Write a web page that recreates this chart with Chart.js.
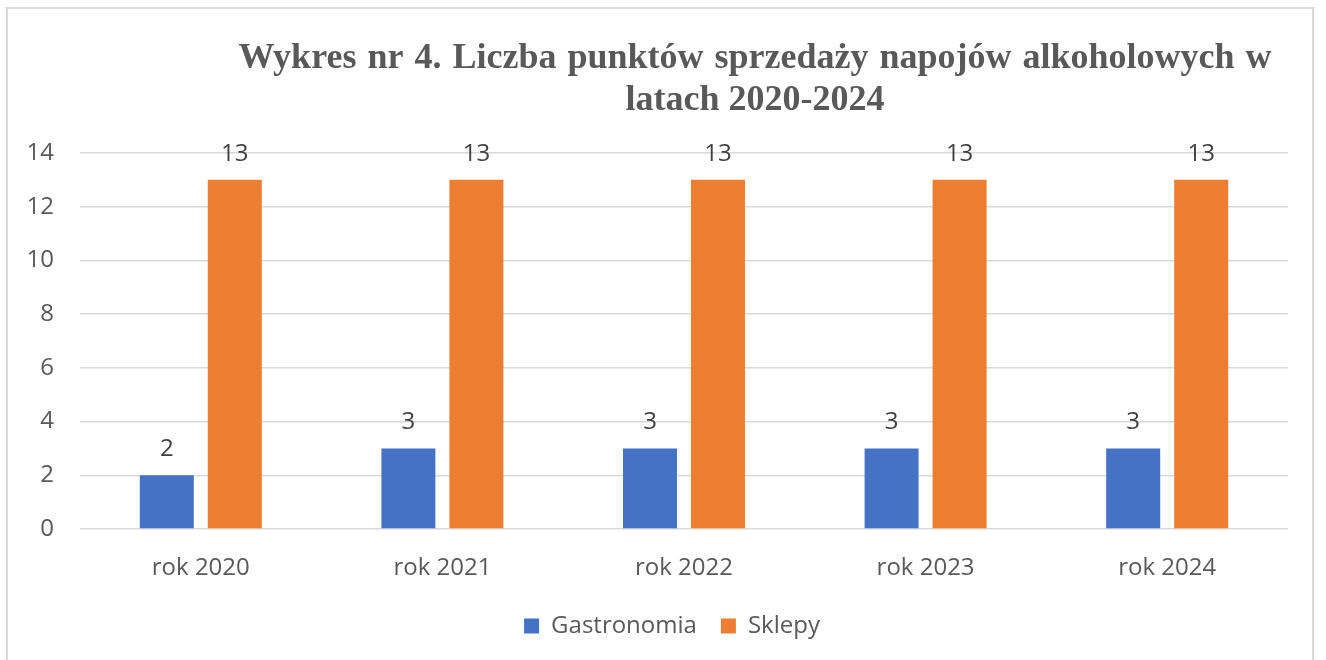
<!DOCTYPE html>
<html><head><meta charset="utf-8">
<script src="https://cdn.jsdelivr.net/npm/chart.js@4.4.1/dist/chart.umd.min.js"></script>
<style>html,body{margin:0;padding:0;background:#fff;overflow:hidden}#wrap{position:relative;width:1326px;height:660px}</style>
</head><body><div id="wrap"><canvas id="c" width="1326" height="660"></canvas></div>
<script>
const CATEGORIES = ['rok 2020', 'rok 2021', 'rok 2022', 'rok 2023', 'rok 2024'];
const SERIES_NAMES = ['Gastronomia', 'Sklepy'];
const GASTRONOMIA = [2, 3, 3, 3, 3];
const SKLEPY = [13, 13, 13, 13, 13];
const Y_MIN = 0, Y_MAX = 14, Y_STEP = 2;
const TITLE_LINES = ['Wykres nr 4. Liczba punktów sprzedaży napojów alkoholowych w', 'latach 2020-2024'];

const BLUE = '#4472C4', ORANGE = '#ED7D31';
const TEXT = '#595959';

Chart.defaults.font.family = "'Open Sans', sans-serif";

const framePlugin = {
  id: 'frame',
  beforeDraw(chart) {
    const ctx = chart.ctx;
    ctx.save();
    ctx.fillStyle = '#fff';
    ctx.fillRect(0, 0, chart.width, chart.height);
    ctx.strokeStyle = '#d9d9d9';
    ctx.lineWidth = 2;
    ctx.strokeRect(7, 8, 1306, 700);
    ctx.restore();
  }
};

const legendShift = {
  id: 'legendShift',
  afterLayout(chart) {
    if (chart.legend) {
      chart.legend.left += 28;
      chart.legend.right += 28;
    }
  }
};

const titlePlugin = {
  id: 'titleLines',
  afterDraw(chart) {
    const ctx = chart.ctx;
    ctx.save();
    ctx.fillStyle = TEXT;
    ctx.font = "bold 36px 'Liberation Serif', 'Times New Roman', serif";
    ctx.textAlign = 'center';
    ctx.textBaseline = 'alphabetic';
    const cx = 755;
    const baselines = [68, 110];
    const spacing = ['2px', '0px'];
    TITLE_LINES.forEach((line, i) => {
      if ('wordSpacing' in ctx) ctx.wordSpacing = spacing[i];
      ctx.fillText(line, cx, baselines[i]);
    });
    ctx.restore();
  }
};

const valueLabels = {
  id: 'valueLabels',
  afterDatasetsDraw(chart) {
    const ctx = chart.ctx;
    ctx.save();
    ctx.fillStyle = '#404040';
    ctx.font = "24px 'Open Sans', sans-serif";
    ctx.textAlign = 'center';
    ctx.textBaseline = 'middle';
    chart.data.datasets.forEach((ds, i) => {
      const meta = chart.getDatasetMeta(i);
      meta.data.forEach((bar, j) => {
        ctx.fillText(String(ds.data[j]), bar.x, bar.y - 26);
      });
    });
    ctx.restore();
  }
};

new Chart(document.getElementById('c'), {
  type: 'bar',
  data: {
    labels: CATEGORIES,
    datasets: [
      { label: SERIES_NAMES[0], data: GASTRONOMIA, backgroundColor: BLUE, categoryPercentage: 0.563, barPercentage: 0.794 },
      { label: SERIES_NAMES[1], data: SKLEPY, backgroundColor: ORANGE, categoryPercentage: 0.563, barPercentage: 0.794 }
    ]
  },
  options: {
    responsive: false,
    animation: false,
    devicePixelRatio: 1,
    layout: { padding: { top: 153, left: 0, right: 38, bottom: 12 } },
    plugins: {
      title: { display: false },
      tooltip: { enabled: false },
      legend: {
        position: 'bottom',
        labels: { boxWidth: 15, boxHeight: 15, padding: 24, color: TEXT, font: { size: 24 } }
      }
    },
    scales: {
      x: {
        grid: { display: false },
        border: { display: false },
        ticks: { color: TEXT, font: { size: 24 }, padding: 17 },
        afterFit(s) { s.height = 61; }
      },
      y: {
        min: Y_MIN, max: Y_MAX,
        grid: { color: '#d9d9d9', lineWidth: 1.5, drawTicks: false },
        border: { display: false },
        ticks: { stepSize: Y_STEP, color: TEXT, font: { size: 24 }, padding: 26 },
        afterFit(s) { s.width = 80; }
      }
    }
  },
  plugins: [framePlugin, legendShift, titlePlugin, valueLabels]
});
</script></body></html>
